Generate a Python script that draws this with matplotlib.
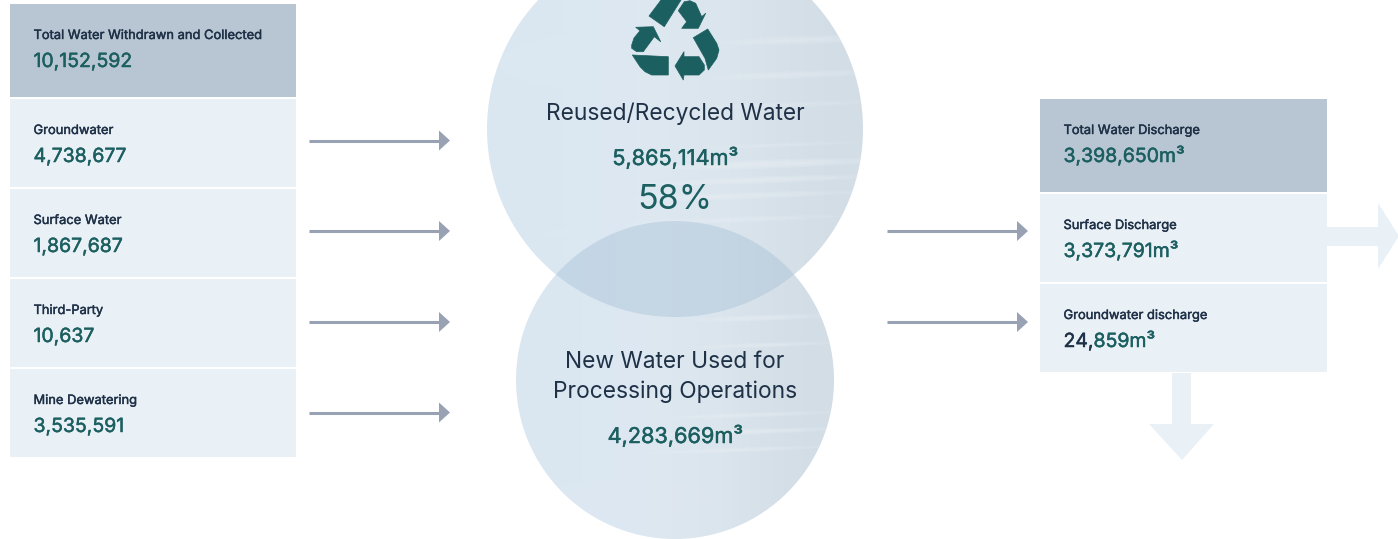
## water balance diagram
import matplotlib
matplotlib.use('Agg')
import matplotlib.pyplot as plt
from matplotlib.patches import Circle, Polygon, Rectangle, Ellipse
import matplotlib.patheffects as pe
import matplotlib.colors as mcolors
import numpy as np

# Data
left_labels = ['Total Water Withdrawn and Collected', 'Groundwater', 'Surface Water',
               'Third-Party', 'Mine Dewatering']
left_values = ['10,152,592', '4,738,677', '1,867,687', '10,637', '3,535,591']
right_labels = ['Total Water Discharge', 'Surface Discharge', 'Groundwater discharge']
right_values = ['3,398,650m³', '3,373,791m³', '24,859m³']
recycled_label = 'Reused/Recycled Water'
recycled_value = '5,865,114m³'
recycled_share = '58%'
new_label = ['New Water Used for', 'Processing Operations']
new_value = '4,283,669m³'

DARK = '#b8c6d3'
LIGHT = '#e9f0f6'
GREY = '#98a2b3'
INK = '#1f3147'
GREEN = '#1c5f60'

plt.rcParams['font.family'] = ['Inter', 'DejaVu Sans']

fig = plt.figure(figsize=(13.98, 5.39), dpi=100)
ax = fig.add_axes([0, 0, 1, 1])
ax.set_xlim(0, 1398)
ax.set_ylim(539, 0)
ax.axis('off')

# Boxes with label and value
def box(x, top, bottom, w, color, label, value):
    ax.add_patch(Rectangle((x, top), w, bottom - top, fc=color, ec='none'))
    tx = x + 23.5
    t = ax.text(tx, top + 35, label, fontsize=9.3, color=INK, va='baseline')
    t.set_path_effects([pe.withStroke(linewidth=0.3, foreground=INK)])
    # last discharge value starts in dark ink in the original
    if value == '24,859m³':
        a = ax.text(tx, top + 63, value[:3], fontsize=14, color=INK, va='baseline')
        a.set_path_effects([pe.withStroke(linewidth=0.35, foreground=INK)])
        width = a.get_window_extent(fig.canvas.get_renderer()).width
        b = ax.text(tx + width, top + 63, value[3:], fontsize=14, color=GREEN, va='baseline')
        b.set_path_effects([pe.withStroke(linewidth=0.35, foreground=GREEN)])
    else:
        v = ax.text(tx, top + 63, value, fontsize=14, color=GREEN, va='baseline')
        v.set_path_effects([pe.withStroke(linewidth=0.35, foreground=GREEN)])

left_tops = [4, 99, 189, 279, 369]
left_bots = [97, 187, 277, 367, 457]
for i in range(5):
    box(10, left_tops[i], left_bots[i], 286, DARK if i == 0 else LIGHT, left_labels[i], left_values[i])

right_tops = [99, 194, 284]
right_bots = [192, 282, 372]
for i in range(3):
    box(1040, right_tops[i], right_bots[i], 287, DARK if i == 0 else LIGHT, right_labels[i], right_values[i])

# Thin arrows
def arrow(x0, x1, y):
    ax.plot([x0, x1 - 10], [y, y], color=GREY, lw=2.2, solid_capstyle='butt')
    ax.add_patch(Polygon([(x1 - 11, y - 10), (x1, y), (x1 - 11, y + 10)], fc=GREY, ec='none'))

for y in [140.5, 231, 322, 412.5]:
    arrow(309, 450, y)
for y in [231, 322]:
    arrow(887, 1028, y)

# Big pale arrows
ax.add_patch(Polygon([(1327, 227), (1378, 227), (1378, 203), (1399, 236), (1378, 269), (1378, 246), (1327, 246)],
                     fc=LIGHT, ec='none'))
ax.add_patch(Polygon([(1172, 373), (1191, 373), (1191, 424), (1214, 424), (1182, 460), (1149, 424), (1172, 424)],
                     fc=LIGHT, ec='none'))

# Water circles
cmap = mcolors.LinearSegmentedColormap.from_list('water', ['#dae7f1', '#dde8f1', '#dbe5ed', '#d2dde6'])

def water(cx, cy, r, streaks):
    clip = Circle((cx, cy), r, transform=ax.transData, fc='none', ec='none')
    ax.add_patch(clip)
    grad = np.array([[0.0, 0.2, 0.45, 0.75, 1.0]])
    im = ax.imshow(grad, cmap=cmap, extent=(cx - r, cx + r, cy + r, cy - r), aspect='auto',
                   interpolation='bicubic', zorder=1)
    im.set_clip_path(clip)
    # soft pale streaks, three layers each
    for sx, sy, sw, sh, a in streaks:
        for k in [1.0, 0.7, 0.4]:
            e = Ellipse((sx, sy), sw * k, sh * k, angle=-2, fc='#eef3f7', ec='none', alpha=a, zorder=1.2)
            ax.add_patch(e)
            e.set_clip_path(clip)

top_streaks = [(800, 40, 160, 9, 0.14), (790, 75, 170, 8, 0.14), (780, 105, 190, 6, 0.1),
               (770, 164, 210, 9, 0.2), (760, 180, 230, 7, 0.18), (740, 196, 240, 7, 0.16),
               (730, 220, 220, 6, 0.14), (780, 145, 160, 5, 0.1), (610, 60, 220, 60, 0.05),
               (640, 230, 200, 14, 0.05)]
low_streaks = [(760, 318, 140, 6, 0.18), (765, 345, 140, 5, 0.16), (750, 415, 170, 5, 0.16),
               (740, 432, 190, 6, 0.2), (735, 450, 180, 5, 0.16), (620, 500, 180, 40, 0.06)]
water(675, 129, 188, top_streaks)
water(675, 380, 159, low_streaks)

# Darker lens where the circles overlap
lens = Circle((675, 380), 159, fc='#a9c2d8', ec='none', alpha=0.45, zorder=1.5)
ax.add_patch(lens)
lens_clip = Circle((675, 129), 188, transform=ax.transData, fc='none', ec='none')
ax.add_patch(lens_clip)
lens.set_clip_path(lens_clip)

# Recycling icon, traced in pixels
recycle = [
    [(649, 16), (661, 0), (681, 0), (664.3, 26.7)],
    [(678.3, 10.7), (684.3, 1.7), (690, 0.7), (695.7, 3.3), (701.7, 16.7), (705.7, 13.3),
     (698.3, 28.3), (681.7, 28.3), (686.7, 21.7)],
    [(631.7, 45), (634, 38), (640, 30.7), (635.7, 27.3), (653.3, 26.7), (660.7, 41.7),
     (654.3, 36.7), (643.3, 51.7), (636.7, 51.7), (631.7, 48.3)],
    [(632.3, 55), (668.3, 56.7), (668.3, 75), (651.7, 75), (645, 71.7), (640, 66.7)],
    [(675, 66), (684, 51.7), (684, 56.7), (699, 56.7), (704.3, 65), (704.3, 70), (699, 75),
     (684, 75), (683.3, 80)],
    [(693.3, 37.7), (707.7, 29), (716.7, 43.3), (719, 50), (716.7, 58.3), (708.3, 70), (705, 58.3)],
]
for pts in recycle:
    ax.add_patch(Polygon(pts, fc=GREEN, ec=GREEN, lw=0.5, joinstyle='round', zorder=3))

# Circle text
med = [pe.withStroke(linewidth=0.35, foreground=GREEN)]
ax.text(675, 120, recycled_label, ha='center', va='baseline', fontsize=16.4, color=INK, zorder=4)
ax.text(675, 165, recycled_value, ha='center', va='baseline', fontsize=15.6, color=GREEN, zorder=4, path_effects=med)
ax.text(675, 209, recycled_share, ha='center', va='baseline', fontsize=24.5, color=GREEN, zorder=4)
ax.text(675, 368, new_label[0], ha='center', va='baseline', fontsize=16.4, color=INK, zorder=4)
ax.text(675, 398, new_label[1], ha='center', va='baseline', fontsize=16.4, color=INK, zorder=4)
ax.text(675, 443, new_value, ha='center', va='baseline', fontsize=15.6, color=GREEN, zorder=4, path_effects=med)

fig.savefig('out.png', dpi=100)
